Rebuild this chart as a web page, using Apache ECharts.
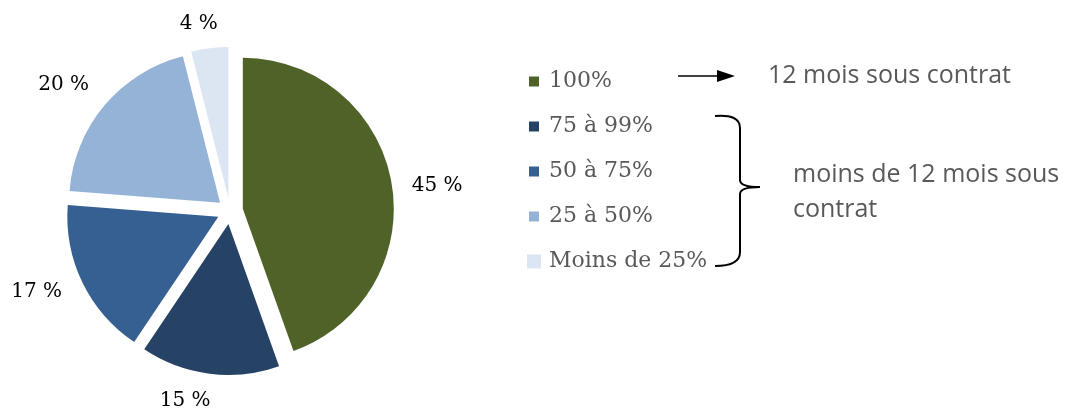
<!DOCTYPE html>
<html>
<head>
<meta charset="utf-8">
<script src="https://cdn.jsdelivr.net/npm/echarts@6/dist/echarts.min.js"></script>
<style>
html,body{margin:0;padding:0;background:#fff;}
#chart{width:1071px;height:409px;}
</style>
</head>
<body>
<div id="chart"></div>
<script>
// Data
const categories = ['100%', '75 à 99%', '50 à 75%', '25 à 50%', 'Moins de 25%'];
const values = [45, 15, 17, 20, 4];
const colors = ['#4F6228', '#264264', '#376092', '#95B3D7', '#DCE6F2'];
const noteTop = '12 mois sous contrat';
const noteBottom = 'moins de 12 mois sous\ncontrat';

// Style constants: per-label nudges imitating Excel's outside-end label placement
const labelStyles = [
  { padding: [0, 0, 0, 28], formatter: '\n{c} %', lineHeight: 16 },
  { padding: [0, 41, 0, 0], formatter: '{c} %\n', lineHeight: 10 },
  { padding: [0, 34, 0, 0], formatter: '{c} %\n', lineHeight: 10 },
  { padding: [0, 33, 0, 0], formatter: '{c} %', lineHeight: 20 },
  { padding: [0, 14, 0, 0], formatter: '\n{c} %', lineHeight: 15 }
];

const CENTER = [230, 211];
const RADIUS = 151;
const OFFSET = 13;

const chart = echarts.init(document.getElementById('chart'));

const mainData = categories.map((name, i) => ({
  name: name,
  value: values[i],
  selected: true,
  itemStyle: { color: colors[i] }
}));
const labelData = categories.map((name, i) => ({
  name: name,
  value: values[i],
  selected: true,
  label: labelStyles[i]
}));
const legendData = categories.map((name, i) => ({
  name: name,
  itemStyle: i < categories.length - 1
    ? { color: colors[i], borderColor: '#ffffff', borderWidth: 4 }
    : { color: colors[i], borderWidth: 0 }
}));

const stroke = { stroke: '#000', lineWidth: 2, fill: null };

chart.setOption({
  animation: false,
  backgroundColor: '#ffffff',
  legend: {
    orient: 'vertical',
    left: 520,
    top: 64,
    itemWidth: 14,
    itemHeight: 14,
    itemGap: 20,
    icon: 'rect',
    selectedMode: false,
    data: legendData,
    textStyle: {
      fontFamily: 'DejaVu Serif',
      fontSize: 22,
      color: '#595959',
      lineHeight: 25,
      padding: [0, 0, 0, 3]
    }
  },
  series: [
    {
      type: 'pie',
      center: CENTER,
      radius: [0, RADIUS],
      startAngle: 90,
      clockwise: true,
      selectedMode: 'multiple',
      selectedOffset: OFFSET,
      silent: true,
      label: { show: false },
      labelLine: { show: false },
      emphasis: { disabled: true },
      data: mainData
    },
    {
      type: 'pie',
      center: CENTER,
      radius: [168, 192],
      startAngle: 90,
      clockwise: true,
      selectedMode: 'multiple',
      selectedOffset: OFFSET,
      silent: true,
      itemStyle: { color: 'rgba(0,0,0,0)' },
      emphasis: { disabled: true },
      labelLine: { show: false },
      label: {
        show: true,
        position: 'inside',
        formatter: '{c} %',
        fontFamily: 'DejaVu Serif',
        fontSize: 20,
        color: '#000000'
      },
      data: labelData
    }
  ],
  graphic: [
    { type: 'line', shape: { x1: 678, y1: 76, x2: 720, y2: 76 }, style: { stroke: '#000', lineWidth: 1.5 } },
    { type: 'polygon', shape: { points: [[717, 70], [735, 76], [717, 82]] }, style: { fill: '#000' } },
    { type: 'bezierCurve', shape: { x1: 715, y1: 116, cpx1: 740, cpy1: 114, x2: 740, y2: 128 }, style: stroke },
    { type: 'line', shape: { x1: 740, y1: 128, x2: 740, y2: 180 }, style: stroke },
    { type: 'bezierCurve', shape: { x1: 740, y1: 180, cpx1: 740, cpy1: 187, x2: 760, y2: 187 }, style: stroke },
    { type: 'bezierCurve', shape: { x1: 760, y1: 187, cpx1: 740, cpy1: 187, x2: 740, y2: 194 }, style: stroke },
    { type: 'line', shape: { x1: 740, y1: 194, x2: 740, y2: 252 }, style: stroke },
    { type: 'bezierCurve', shape: { x1: 740, y1: 252, cpx1: 740, cpy1: 266, x2: 715, y2: 266 }, style: stroke },
    {
      type: 'text',
      x: 768,
      y: 76,
      style: { text: noteTop, fontFamily: 'Open Sans', fontSize: 25, fill: '#595959', verticalAlign: 'middle' }
    },
    {
      type: 'text',
      x: 793,
      y: 157,
      style: { text: noteBottom, fontFamily: 'Open Sans', fontSize: 25, lineHeight: 35, fill: '#595959', verticalAlign: 'top' }
    }
  ]
});
</script>
</body>
</html>
